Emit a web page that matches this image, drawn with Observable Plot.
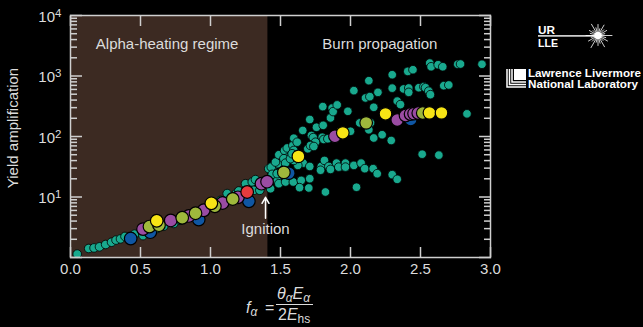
<!DOCTYPE html>
<html>
<head>
<meta charset="utf-8">
<script src="https://cdn.jsdelivr.net/npm/d3@7"></script>
<script src="https://cdn.jsdelivr.net/npm/@observablehq/plot@0.6"></script>
<style>
  html, body { margin: 0; padding: 0; background: #000; }
  #chart { width: 643px; height: 327px; position: relative; }
</style>
</head>
<body>
<div id="chart"></div>
<script>
// Yield amplification versus the alpha-heating parameter f_alpha.

// Simulation / database points (teal)
const database = [
  [0.048,1.14],[0.13,1.41],[0.168,1.44],[0.207,1.50],[0.251,1.64],[0.293,1.79],[0.325,1.94],
  [0.357,2.03],[0.389,2.23],[0.457,2.43],[0.518,2.30],[0.584,2.83],[0.619,3.02],[0.666,3.29],
  [0.738,3.65],[0.786,4.13],[0.829,4.54],[0.881,5.0],[0.929,5.4],[0.988,7.3],[1.03,7.9],
  [1.071,8.8],[1.119,11.4],[1.143,9.4],[1.186,11.6],[1.202,12.6],[1.25,16.6],[1.298,17.7],
  [1.321,19.4],[1.309,12.9],[1.352,12.9],[1.429,13.7],[1.416,29.4],[1.452,33.3],[1.481,35.5],
  [1.5,24.3],[1.476,18.8],[1.488,16.6],
  [1.434,31.2],[1.464,37.8],[1.488,50],[1.529,58.8],[1.548,64.7],[1.588,71.1],[1.595,58.8],
  [1.548,43.9],[1.524,43.0],[1.536,36.3],[1.595,93.8],[1.619,80.5],[1.659,126],[1.709,191],
  [1.757,142],[1.805,153],[1.721,104],[1.734,96],[1.75,80.5],[1.695,62.7],[1.714,71.1],
  [1.738,68.4],[1.798,97.3],[1.809,89.3],[1.838,91.6],[1.857,203],[1.802,312],[1.869,295],
  [1.876,258],[1.905,333],[1.981,261],[2.0,122],[2.024,573],[2.131,837],[2.066,168],
  [2.143,168],[2.131,129],[2.166,94.5],[2.226,107],[2.291,85.9],[2.107,434],[2.138,456],
  [2.196,537],[2.166,304],[2.298,1050],[2.298,630],[2.334,385],[2.357,337],[2.379,611],
  [2.416,634],[2.416,537],[2.409,1191],[2.446,1270],[2.488,641],[2.524,667],[2.536,641],
  [2.559,562],[2.571,492],[2.666,692],[2.702,711],[2.566,1637],[2.576,1422],[2.626,1535],
  [2.659,1422],[2.766,1564],[2.786,1577],[2.939,1564],[2.832,237],[2.512,51],[2.631,49.2],
  [2.043,14.5],[1.821,12.1],
  [1.662,36.3],[1.709,32],[1.791,32],[1.786,27.7],[1.814,40.2],[1.845,32],[1.857,28.6],
  [1.9,36.3],[1.916,31.2],[1.964,36.3],[1.964,31.2],[2.024,33.3],[2.076,36.3],[2.102,29.4],
  [2.162,29.4],[2.191,24.3],[2.298,23.4],[2.334,19.6],
  [1.536,17.7],[1.591,17.7],[1.648,18.8],[1.709,20.1],[1.636,14.3],[1.702,14.1],[1.624,33.3],
  [1.595,40.2],[1.441,23.7],[1.476,24.3],[1.571,43],[1.583,51.9]
];

// Highlighted shot series
const blueShots = [[0.43,2.06],[0.57,2.62],[0.916,4.24],[1.274,8.5],[1.559,24.8],[2.43,191]];
const purpleShots = [[0.518,2.95],[0.716,4.10],[0.845,4.86],[0.952,6.04],[1.086,7.96],[1.196,9.89],
  [1.364,16.6],[1.404,17.9],[1.889,101],[2.334,187],[2.393,222],[2.429,235],[2.454,239],[2.484,244]];
const oliveShots = [[0.564,3.25],[0.632,3.42],[0.798,4.54],[0.893,5.39],[1.031,7.03],[1.159,9.27],
  [1.524,25.5],[2.112,168],[2.516,244]];
const yellowShots = [[0.616,4.05],[1.006,7.87],[1.628,46.9],[1.945,115],[2.25,237],[2.564,246],[2.65,246]];
const redShots = [[1.262,12.1]];

// Axes
const xTicks = [0, 0.5, 1, 1.5, 2, 2.5, 3];
const yTicks = [1, 10, 100, 1000, 10000];
const yLabelled = [10, 100, 1000, 10000];
const yExponents = ["1", "2", "3", "4"];
const yMinor = [];
for (const decade of [1, 10, 100, 1000]) for (let m = 2; m <= 9; m++) yMinor.push(m * decade);
const yLabelRows = yLabelled.map((v, i) => ({v, base: "10", exp: yExponents[i]}));

// Regimes
const ignitionX = 1.41;
const regimes = [{x1: 0, x2: ignitionX}];
const regimeLabels = [
  {x: 0.69, y: 3400, text: "Alpha-heating regime"},
  {x: 2.21, y: 3400, text: "Burn propagation"}
];
const ignitionNote = {x: 1.393, y: 2.94, text: "Ignition", tail: 4.46, tip: 9.9};

const colors = {teal: "#19a98e", blue: "#0f56a3", purple: "#9a4ca3", olive: "#9fb83c", yellow: "#f7e415", red: "#e63b3d"};
const ink = "#dcdcdc";
const font = "'Liberation Sans', Arial, sans-serif";

const pts = arr => arr.map(([x, y]) => ({x, y}));
const dotStyle = (fill, r) => ({x: "x", y: "y", r, fill, stroke: "#000", strokeWidth: r > 5 ? 1.2 : 0.8});
const axisLine = {stroke: "#cfcfcf", strokeWidth: 1.5, fill: "none", label: null};

const chart = Plot.plot({
  width: 643,
  height: 327,
  marginLeft: 70,
  marginRight: 153,
  marginTop: 15,
  marginBottom: 70,
  style: {background: "#000", color: ink, fontFamily: font, fontSize: "15px", overflow: "visible"},
  x: {domain: [0, 3]},
  y: {type: "log", domain: [1, 10000]},
  marks: [
    Plot.rect(regimes, {x1: "x1", x2: "x2", fill: "#3c2a22"}),
    Plot.text(regimeLabels, {x: "x", y: "y", text: "text", fill: ink, fontSize: 15}),
    Plot.dot(pts(database), dotStyle(colors.teal, 4.3)),
    Plot.dot(pts(blueShots), dotStyle(colors.blue, 6.3)),
    Plot.dot(pts(purpleShots), dotStyle(colors.purple, 6.3)),
    Plot.dot(pts(oliveShots), dotStyle(colors.olive, 6.3)),
    Plot.dot(pts(yellowShots), dotStyle(colors.yellow, 6.3)),
    Plot.dot(pts(redShots), dotStyle(colors.red, 6.3)),
    Plot.arrow([ignitionNote], {x: "x", y1: "tail", y2: "tip", stroke: "#fff", strokeWidth: 1.5, headLength: 7}),
    Plot.text([ignitionNote], {x: "x", y: "y", text: "text", fill: ink, fontSize: 15}),
    Plot.frame({stroke: "#cfcfcf", strokeWidth: 1.5}),
    Plot.axisX(xTicks, {...axisLine, anchor: "bottom", tickSize: -10}),
    Plot.axisX(xTicks, {...axisLine, anchor: "top", tickSize: -10}),
    Plot.axisX(xTicks, {anchor: "bottom", tickSize: 0, tickPadding: 6, tickFormat: d3.format(".1f"), fill: ink, fontSize: 15, label: null}),
    Plot.axisY(yTicks, {...axisLine, anchor: "left", tickSize: -12}),
    Plot.axisY(yMinor, {...axisLine, anchor: "left", tickSize: -7}),
    Plot.axisY(yTicks, {...axisLine, anchor: "right", tickSize: -12}),
    Plot.axisY(yMinor, {...axisLine, anchor: "right", tickSize: -7}),
    // decade labels: "10" with a raised exponent
    Plot.text(yLabelRows, {y: "v", text: "base", frameAnchor: "left", textAnchor: "end", dx: -15.5, dy: 1.5, fill: ink, fontSize: 15}),
    Plot.text(yLabelRows, {y: "v", text: "exp", frameAnchor: "left", textAnchor: "start", dx: -15.5, dy: -2.5, fill: ink, fontSize: 11.5})
  ]
});

document.getElementById("chart").appendChild(chart);

const svg = d3.select(chart);

// y-axis title
svg.append("text")
  .attr("transform", "translate(14,128) rotate(-90)")
  .attr("text-anchor", "middle").attr("dominant-baseline", "middle")
  .attr("fill", ink).attr("font-family", font).attr("font-size", 15)
  .text("Yield amplification");

// x-axis title: f_alpha = theta_alpha E_alpha / 2 E_hs
const f = svg.append("g").attr("fill", ink).attr("font-family", font).attr("text-anchor", "start");
const lhs = f.append("text").attr("x", 246).attr("y", 313).attr("font-size", 16);
lhs.append("tspan").attr("font-style", "italic").text("f");
lhs.append("tspan").attr("font-style", "italic").attr("font-size", 12).attr("dy", 3).text("α");
f.append("text").attr("x", 265).attr("y", 313).attr("font-size", 16).text("=");
const num = f.append("text").attr("x", 277).attr("y", 299).attr("font-size", 16);
num.append("tspan").attr("font-style", "italic").text("θ");
num.append("tspan").attr("font-style", "italic").attr("font-size", 12).attr("dy", 3).text("α");
num.append("tspan").attr("font-style", "italic").attr("dy", -3).text("E");
num.append("tspan").attr("font-style", "italic").attr("font-size", 12).attr("dy", 3).text("α");
f.append("line").attr("x1", 276).attr("x2", 313).attr("y1", 304.5).attr("y2", 304.5).attr("stroke", ink).attr("stroke-width", 1.2);
const den = f.append("text").attr("x", 278).attr("y", 320).attr("font-size", 16);
den.append("tspan").text("2");
den.append("tspan").attr("font-style", "italic").text("E");
den.append("tspan").attr("font-size", 12).attr("dy", 3).text("hs");

// Institution marks
const logo = svg.append("g").attr("fill", "#fff").attr("stroke", "none").attr("font-family", font).attr("text-anchor", "start");
logo.append("text").attr("x", 538).attr("y", 33.5).attr("font-size", 11).attr("font-weight", "bold").attr("textLength", 17).attr("lengthAdjust", "spacingAndGlyphs").text("UR");
logo.append("rect").attr("x", 538).attr("y", 35.2).attr("width", 58).attr("height", 1.4);
logo.append("text").attr("x", 538).attr("y", 46.5).attr("font-size", 11).attr("font-weight", "bold").attr("textLength", 20).attr("lengthAdjust", "spacingAndGlyphs").text("LLE");
const star = logo.append("g").attr("transform", "translate(598,35.5)").attr("stroke", "#fff").attr("stroke-linecap", "round");
const rays = [14, 8, 11, 7, 13, 8, 10, 7, 14, 8, 11, 7, 12, 8, 10, 7, 13, 8, 11, 7, 12, 8, 10, 7];
rays.forEach((len, i) => {
  const a = (i / rays.length) * 2 * Math.PI;
  star.append("line").attr("x1", 0).attr("y1", 0)
    .attr("x2", Math.cos(a) * len).attr("y2", Math.sin(a) * len)
    .attr("stroke-width", 0.9).attr("stroke-opacity", 0.9);
});
star.append("circle").attr("r", 3.2).attr("fill", "#fff");

const ll = logo.append("g");
ll.append("rect").attr("x", 514).attr("y", 69).attr("width", 12).attr("height", 11);
[[507, 87], [509.5, 84.5], [512, 82]].forEach(([x, y]) => {
  ll.append("path").attr("d", `M${x},69 V${y} H526`).attr("fill", "none").attr("stroke", "#fff").attr("stroke-width", 1.5);
});
logo.append("text").attr("x", 528).attr("y", 77).attr("font-size", 10).attr("font-weight", "bold").attr("textLength", 113).attr("lengthAdjust", "spacingAndGlyphs").text("Lawrence Livermore");
logo.append("text").attr("x", 528).attr("y", 87.5).attr("font-size", 10).attr("font-weight", "bold").attr("textLength", 110).attr("lengthAdjust", "spacingAndGlyphs").text("National Laboratory");
</script>
</body>
</html>
